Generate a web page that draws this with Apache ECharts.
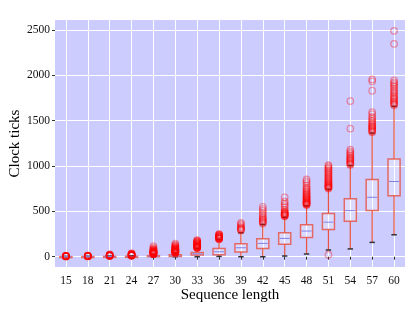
<!DOCTYPE html>
<html>
<head>
<meta charset="utf-8">
<script src="https://cdn.jsdelivr.net/npm/echarts@6/dist/echarts.min.js"></script>
<style>
html,body{margin:0;padding:0;background:#fff;}
#c{width:415px;height:311px;}
</style>
</head>
<body>
<div id="c"></div>
<script>
// Categories (sequence length)
var categories = ['15','18','21','24','27','30','33','36','39','42','45','48','51','54','57','60'];
// Box stats: [lower whisker, Q1, median, Q3, upper whisker]
var boxStats = [
  [0, 0, 1, 2, 4],
  [0, 0, 1, 2, 5],
  [0, 1, 2, 4, 8],
  [0, 1, 3, 5, 11],
  [0, 2, 6, 12, 26],
  [0, 4, 10, 22, 40],
  [0, 18, 32, 48, 92],
  [4, 22, 55, 92, 190],
  [0, 52, 99, 143, 264],
  [0, 92, 147, 198, 356],
  [8, 138, 202, 264, 435],
  [30, 213, 283, 352, 561],
  [74, 300, 381, 477, 744],
  [86, 392, 508, 638, 1005],
  [158, 510, 655, 851, 1363],
  [242, 671, 829, 1077, 1657]
];
// Outliers per category
var outliers = [
  [3, 4, 5, 5, 6, 6, 7, 7, 8, 8, 9, 10],
  [4, 5, 6, 6, 7, 7, 8, 9, 10, 11, 12],
  [9, 10, 11, 12, 13, 14, 15, 16, 18, 20, 22, 25],
  [12, 13, 14, 15, 16, 18, 19, 20, 22, 24, 25, 28, 30, 34, 38],
  [28, 30, 31, 33, 34, 36, 38, 40, 42, 44, 46, 48, 50, 53, 55, 58, 60, 63, 66, 70, 75, 80, 88, 100, 118],
  [42, 44, 46, 48, 50, 52, 54, 56, 58, 60, 63, 65, 68, 70, 73, 75, 78, 80, 83, 86, 90, 94, 98, 103, 108, 115, 122, 130, 145],
  [95, 98, 100, 103, 106, 108, 111, 114, 117, 120, 123, 126, 130, 133, 136, 140, 144, 148, 152, 156, 160, 166, 172, 178, 183],
  [193, 196, 199, 202, 205, 208, 211, 214, 217, 220, 224, 228, 232, 236, 241, 246, 250],
  [290, 300, 305, 312, 320, 330, 345, 360, 374],
  [365, 375, 385, 395, 405, 415, 425, 440, 460, 480, 505, 525, 550],
  [445, 450, 455, 460, 465, 470, 477, 482, 487, 495, 502, 520, 545, 568, 587, 610, 655],
  [570, 575, 580, 585, 590, 595, 600, 606, 612, 618, 625, 632, 640, 648, 655, 662, 670, 680, 690, 700, 710, 722, 735, 748, 760, 785, 810, 830, 851],
  [22, 752, 758, 765, 770, 775, 782, 790, 797, 805, 812, 820, 830, 840, 850, 860, 870, 880, 895, 905, 920, 930, 945, 955, 970, 980, 995, 1008],
  [1012, 1020, 1030, 1040, 1050, 1060, 1070, 1080, 1090, 1100, 1115, 1130, 1145, 1160, 1181, 1412, 1715],
  [1372, 1380, 1390, 1400, 1410, 1420, 1430, 1440, 1448, 1460, 1475, 1490, 1503, 1525, 1540, 1570, 1594, 1829, 1932, 1954],
  [1668, 1680, 1690, 1700, 1712, 1725, 1740, 1750, 1765, 1780, 1800, 1814, 1830, 1850, 1870, 1888, 1905, 1920, 1943, 2346, 2489]
];
var yTicks = [0, 500, 1000, 1500, 2000, 2500];
var yMin = -113, yMax = 2608;

var boxData = boxStats.map(function (s, i) { return [i].concat(s); });
var outlierData = [];
outliers.forEach(function (arr, i) { arr.forEach(function (v) { outlierData.push([i, v]); }); });

var FONT = 'Liberation Serif';
var chart = echarts.init(document.getElementById('c'), null, {renderer: 'canvas'});
chart.setOption({
  animation: false,
  backgroundColor: '#ffffff',
  grid: {left: 55, right: 10, top: 20, bottom: 44, show: true, backgroundColor: '#ccccff', borderWidth: 0,
         containLabel: false, outerBoundsMode: 'none'},
  xAxis: {
    type: 'category',
    data: categories,
    boundaryGap: true,
    name: 'Sequence length',
    nameLocation: 'middle',
    nameGap: 21,
    nameMoveOverlap: false,
    nameTextStyle: {fontFamily: FONT, fontSize: 15, color: '#000'},
    axisLine: {show: false},
    axisTick: {show: true, alignWithLabel: true, length: 3, lineStyle: {color: '#333'}},
    axisLabel: {fontFamily: FONT, fontSize: 11.5, color: '#111', margin: 8},
    splitLine: {show: true, alignWithLabel: true, lineStyle: {color: '#ffffff', width: 1}}
  },
  yAxis: {
    type: 'value',
    min: yMin,
    max: yMax,
    name: 'Clock ticks',
    nameLocation: 'middle',
    nameGap: 32,
    nameRotate: 90,
    nameMoveOverlap: false,
    nameTextStyle: {fontFamily: FONT, fontSize: 15, color: '#000'},
    axisLine: {show: false},
    axisTick: {show: true, length: 3, lineStyle: {color: '#333'}, customValues: yTicks},
    axisLabel: {fontFamily: FONT, fontSize: 11.5, color: '#111', margin: 5, customValues: yTicks,
                formatter: function (v) { return String(v); }},
    splitLine: {show: true, lineStyle: {color: '#ffffff', width: 1}}
  },
  series: [
    {
      type: 'custom',
      data: boxData,
      encode: {x: 0, y: [1, 2, 3, 4, 5]},
      z: 3,
      renderItem: function (params, api) {
        var i = api.value(0);
        var bw = api.size([1, 0])[0] * 0.55;
        var lo = api.coord([i, api.value(1)]);
        var q1 = api.coord([i, api.value(2)]);
        var md = api.coord([i, api.value(3)]);
        var q3 = api.coord([i, api.value(4)]);
        var hi = api.coord([i, api.value(5)]);
        var x = lo[0];
        var cw = bw * 0.45;
        var red = 'rgba(232,64,40,0.9)';
        return {
          type: 'group',
          children: [
            {type: 'line', shape: {x1: x, y1: lo[1], x2: x, y2: q1[1]}, style: {stroke: red, lineWidth: 1.2}},
            {type: 'line', shape: {x1: x, y1: q3[1], x2: x, y2: hi[1]}, style: {stroke: red, lineWidth: 1.2}},
            {type: 'line', shape: {x1: x - cw / 2, y1: lo[1], x2: x + cw / 2, y2: lo[1]}, style: {stroke: '#333', lineWidth: 1.5}},
            {type: 'line', shape: {x1: x - cw / 2, y1: hi[1], x2: x + cw / 2, y2: hi[1]}, style: {stroke: '#333', lineWidth: 1.5}},
            {type: 'rect', shape: {x: x - bw / 2, y: q3[1], width: bw, height: Math.max(q1[1] - q3[1], 1)},
              style: {fill: 'rgba(255,255,255,0.3)', stroke: 'rgba(232,70,50,0.75)', lineWidth: 1.5}},
            {type: 'line', shape: {x1: x - bw / 2 + 1, y1: md[1], x2: x + bw / 2 - 1, y2: md[1]}, style: {stroke: '#8080e6', lineWidth: 1}}
          ]
        };
      }
    },
    {
      type: 'scatter',
      data: outlierData,
      z: 4,
      symbol: 'circle',
      symbolSize: 6.5,
      itemStyle: {color: 'rgba(0,0,0,0)', borderColor: 'rgba(255,0,0,0.45)', borderWidth: 1.3}
    }
  ]
});
</script>
</body>
</html>
